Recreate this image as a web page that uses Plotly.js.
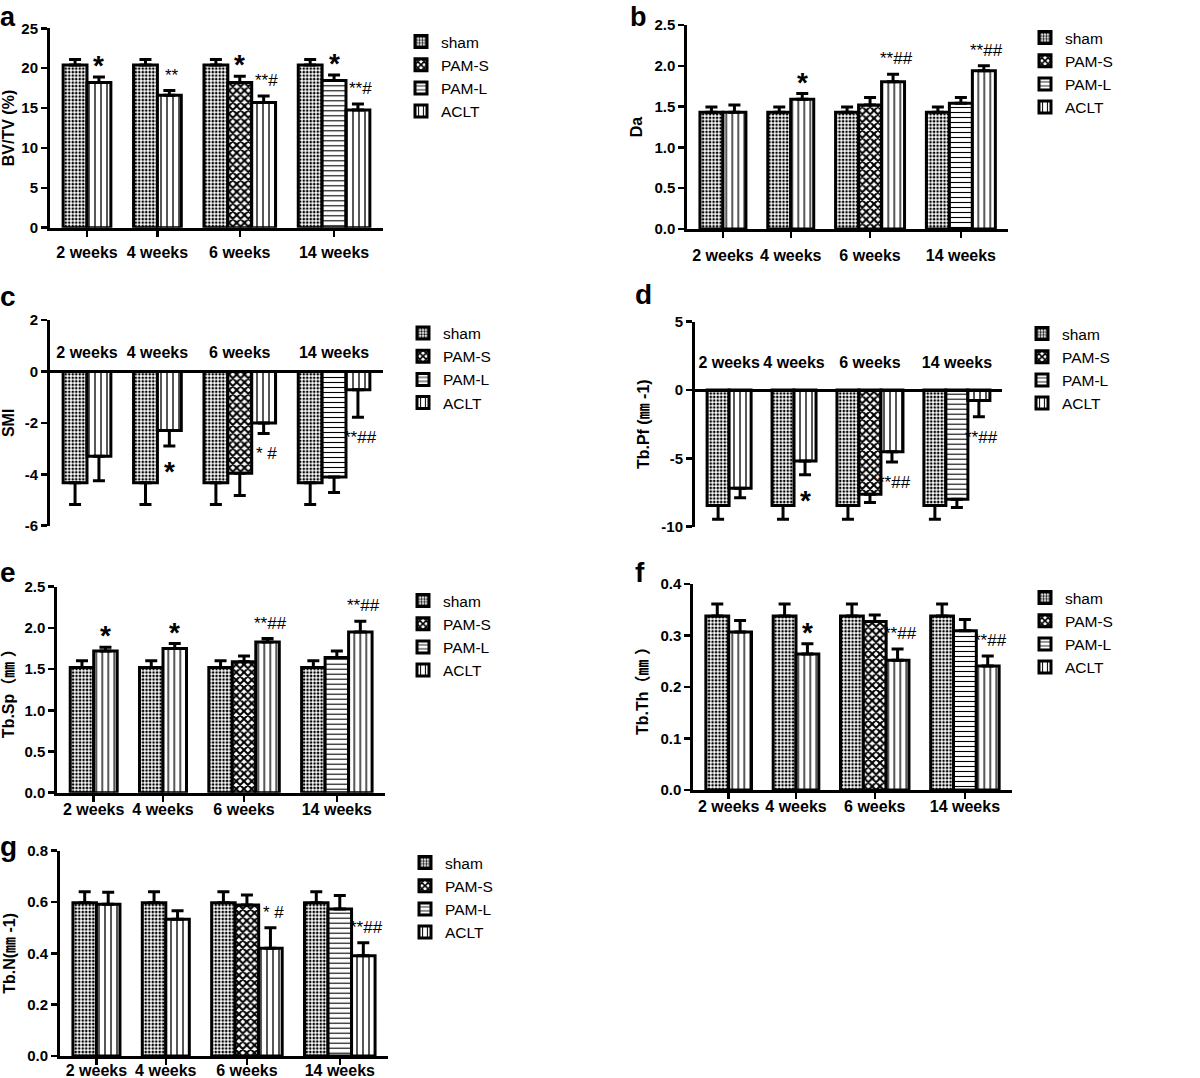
<!DOCTYPE html>
<html><head><meta charset="utf-8">
<script src="https://cdn.plot.ly/plotly-3.0.1.min.js"></script>
<style>html,body{margin:0;padding:0;background:#fff}</style>
</head><body><div id="chart" style="width:1200px;height:1078px"></div>
<script>
// ---------------- DATA ----------------
const categories = ['2 weeks', '4 weeks', '6 weeks', '14 weeks'];
const seriesNames = ['sham', 'PAM-S', 'PAM-L', 'ACLT'];

// a: BV/TV (%)
const bvtvSham = [20.4, 20.4, 20.4, 20.4];
const bvtvShamErr = [0.7, 0.7, 0.7, 0.7];
const bvtvPamS = [null, null, 18.2, null];
const bvtvPamSErr = [null, null, 0.8, null];
const bvtvPamL = [null, null, null, 18.45];
const bvtvPamLErr = [null, null, null, 0.7];
const bvtvAclt = [18.2, 16.6, 15.7, 14.75];
const bvtvAcltErr = [0.7, 0.6, 0.8, 0.75];
const bvtvPamSSig = ['', '', '*', ''];
const bvtvPamLSig = ['', '', '', '*'];
const bvtvAcltSig = ['*', '**', '**#', '**#'];
const bvtvTicks = [0, 5, 10, 15, 20, 25];

// b: Da
const daSham = [1.43, 1.43, 1.43, 1.43];
const daShamErr = [0.065, 0.065, 0.065, 0.065];
const daPamS = [null, null, 1.52, null];
const daPamSErr = [null, null, 0.09, null];
const daPamL = [null, null, null, 1.54];
const daPamLErr = [null, null, null, 0.07];
const daAclt = [1.43, 1.59, 1.805, 1.94];
const daAcltErr = [0.09, 0.07, 0.09, 0.06];
const daAcltSig = ['', '*', '**##', '**##'];
const daTicks = [0, 0.5, 1.0, 1.5, 2.0, 2.5];

// c: SMI
const smiSham = [-4.33, -4.33, -4.33, -4.33];
const smiShamErr = [0.85, 0.85, 0.85, 0.85];
const smiPamS = [null, null, -3.96, null];
const smiPamSErr = [null, null, 0.87, null];
const smiPamL = [null, null, null, -4.11];
const smiPamLErr = [null, null, null, 0.6];
const smiAclt = [-3.30, -2.30, -2.01, -0.71];
const smiAcltErr = [0.95, 0.6, 0.4, 1.07];
const smiAcltSig = ['', '*', '* #', '**##'];
const smiTicks = [-6, -4, -2, 0, 2];

// d: Tb.Pf
const tbpfSham = [-8.45, -8.45, -8.45, -8.45];
const tbpfShamErr = [1.0, 1.0, 1.0, 1.0];
const tbpfPamS = [null, null, -7.63, null];
const tbpfPamSErr = [null, null, 0.6, null];
const tbpfPamL = [null, null, null, -8.0];
const tbpfPamLErr = [null, null, null, 0.6];
const tbpfAclt = [-7.19, -5.19, -4.51, -0.76];
const tbpfAcltErr = [0.7, 1.0, 0.75, 1.2];
const tbpfAcltSig = ['', '*', '**##', '**##'];
const tbpfTicks = [-10, -5, 0, 5];

// e: Tb.Sp
const tbspSham = [1.52, 1.52, 1.52, 1.52];
const tbspShamErr = [0.08, 0.08, 0.08, 0.08];
const tbspPamS = [null, null, 1.59, null];
const tbspPamSErr = [null, null, 0.07, null];
const tbspPamL = [null, null, null, 1.64];
const tbspPamLErr = [null, null, null, 0.08];
const tbspAclt = [1.72, 1.75, 1.83, 1.95];
const tbspAcltErr = [0.045, 0.06, 0.04, 0.13];
const tbspAcltSig = ['*', '*', '**##', '**##'];
const tbspTicks = [0, 0.5, 1.0, 1.5, 2.0, 2.5];

// f: Tb.Th
const tbthSham = [0.338, 0.338, 0.338, 0.338];
const tbthShamErr = [0.023, 0.023, 0.023, 0.023];
const tbthPamS = [null, null, 0.327, null];
const tbthPamSErr = [null, null, 0.013, null];
const tbthPamL = [null, null, null, 0.309];
const tbthPamLErr = [null, null, null, 0.022];
const tbthAclt = [0.307, 0.264, 0.252, 0.241];
const tbthAcltErr = [0.022, 0.02, 0.022, 0.019];
const tbthAcltSig = ['', '*', '**##', '**##'];
const tbthTicks = [0, 0.1, 0.2, 0.3, 0.4];

// g: Tb.N
const tbnSham = [0.597, 0.597, 0.597, 0.597];
const tbnShamErr = [0.043, 0.043, 0.043, 0.043];
const tbnPamS = [null, null, 0.588, null];
const tbnPamSErr = [null, null, 0.039, null];
const tbnPamL = [null, null, null, 0.573];
const tbnPamLErr = [null, null, null, 0.052];
const tbnAclt = [0.591, 0.533, 0.42, 0.391];
const tbnAcltErr = [0.047, 0.033, 0.08, 0.05];
const tbnAcltSig = ['', '', '* #', '**##'];
const tbnTicks = [0, 0.2, 0.4, 0.6, 0.8];

// ---------------- LAYOUT CONFIG ----------------
const W = 1200, H = 1078;
const FONT = 'Liberation Sans, Arial, Noto Sans CJK SC, sans-serif';
const none = ['', '', '', ''];

const panels = [
  {label: 'a', title: 'BV/TV (%)', vals: [bvtvSham, bvtvPamS, bvtvPamL, bvtvAclt],
   errs: [bvtvShamErr, bvtvPamSErr, bvtvPamLErr, bvtvAcltErr], sigs: [none, bvtvPamSSig, bvtvPamLSig, bvtvAcltSig],
   ticks: bvtvTicks, dec: 0, box: [50, 383, 28.3, 227.7], lab: [8, 0], labTop: true, leg: [443, 39], xso: 2},
  {label: 'b', title: 'Da', vals: [daSham, daPamS, daPamL, daAclt],
   errs: [daShamErr, daPamSErr, daPamLErr, daAcltErr], sigs: [none, none, none, daAcltSig],
   ticks: daTicks, dec: 1, box: [687.3, 1008, 25, 229], lab: [638, 0], labTop: true, leg: [1067, 35], xso: 4},
  {label: 'c', title: 'SMI', vals: [smiSham, smiPamS, smiPamL, smiAclt],
   errs: [smiShamErr, smiPamSErr, smiPamLErr, smiAcltErr], sigs: [none, none, none, smiAcltSig],
   ticks: smiTicks, dec: 0, box: [50, 383, 320, 525.7], lab: [8, 296], leg: [445, 330.5], xso: -2},
  {label: 'd', title: 'Tb.Pf (㎜ -1)', vals: [tbpfSham, tbpfPamS, tbpfPamL, tbpfAclt],
   errs: [tbpfShamErr, tbpfPamSErr, tbpfPamLErr, tbpfAcltErr], sigs: [none, none, none, tbpfAcltSig],
   ticks: tbpfTicks, dec: 0, box: [695, 1002, 321.7, 526.7], lab: [643, 294], leg: [1064, 331], xso: 7},
  {label: 'e', title: 'Tb.Sp（㎜ ）', vals: [tbspSham, tbspPamS, tbspPamL, tbspAclt],
   errs: [tbspShamErr, tbspPamSErr, tbspPamLErr, tbspAcltErr], sigs: [none, none, none, tbspAcltSig],
   ticks: tbspTicks, dec: 1, box: [57.3, 385, 586.7, 792.7], lab: [8, 572], leg: [445, 598], xso: -6},
  {label: 'f', title: 'Tb.Th（㎜ ）', vals: [tbthSham, tbthPamS, tbthPamL, tbthAclt],
   errs: [tbthShamErr, tbthPamSErr, tbthPamLErr, tbthAcltErr], sigs: [none, none, none, tbthAcltSig],
   ticks: tbthTicks, dec: 1, box: [693.3, 1011.7, 584, 790], lab: [640, 572], leg: [1067, 595], xso: -6},
  {label: 'g', title: 'Tb.N(㎜ -1)', vals: [tbnSham, tbnPamS, tbnPamL, tbnAclt],
   errs: [tbnShamErr, tbnPamSErr, tbnPamLErr, tbnAcltErr], sigs: [none, none, none, tbnAcltSig],
   ticks: tbnTicks, dec: 1, box: [60, 388, 850.7, 1056], lab: [8, 846], leg: [447, 860], xso: -8}
];

const patterns = [
  {shape: '.', size: 3.5, solidity: 0.45, fgcolor: '#000', bgcolor: '#fff'},
  {shape: 'x', size: 5.5, solidity: 0.6, fgcolor: '#000', bgcolor: '#fff'},
  {shape: '-', size: 5, solidity: 0.22, fgcolor: '#000', bgcolor: '#fff'},
  {shape: '|', size: 6, solidity: 0.22, fgcolor: '#000', bgcolor: '#fff'}
];

const GAP = 0.95, PAD = 0.55;

function slots(vals) {
  let cursor = 0;
  const pos = vals.map(() => categories.map(() => null));
  const centers = [];
  categories.forEach((c, gi) => {
    const start = cursor; let n = 0;
    vals.forEach((v, si) => { if (v[gi] !== null) { pos[si][gi] = cursor; cursor += 1; n++; } });
    centers.push(start + (n - 1) / 2);
    cursor += GAP;
  });
  return {pos, centers, last: cursor - GAP - 1};
}

const data = [];
const layout = {
  width: W, height: H, margin: {l: 0, r: 0, t: 0, b: 0},
  paper_bgcolor: '#fff', plot_bgcolor: 'rgba(0,0,0,0)',
  showlegend: true, hovermode: false, bargap: 0,
  font: {family: FONT, color: '#000'},
  annotations: []
};

panels.forEach((p, i) => {
  const n = i + 1;
  const xa = 'x' + (n === 1 ? '' : n), ya = 'y' + (n === 1 ? '' : n);
  const xk = 'xaxis' + (n === 1 ? '' : n), yk = 'yaxis' + (n === 1 ? '' : n);
  const lk = 'legend' + (n === 1 ? '' : n);
  const [x0, x1, y0, y1] = p.box;
  const xd = [x0 / W, x1 / W], yd = [1 - y1 / H, 1 - y0 / H];
  const s = slots(p.vals);
  const yr = [p.ticks[0], p.ticks[p.ticks.length - 1]];
  const negative = yr[0] < 0;

  p.vals.forEach((vals, si) => {
    const xs = [], ys = [], up = [], dn = [];
    vals.forEach((v, gi) => {
      if (v === null) return;
      const e = p.errs[si][gi];
      xs.push(s.pos[si][gi]); ys.push(v);
      up.push(v >= 0 ? e : 0); dn.push(v >= 0 ? 0 : e);
      const sig = p.sigs[si][gi];
      if (sig) {
        const big = sig === '*';
        const neg = v < 0;
        layout.annotations.push({
          xref: xa, yref: ya, x: s.pos[si][gi], y: neg ? v - e : v + e,
          text: sig, showarrow: false, xanchor: 'center', yanchor: neg ? 'top' : 'bottom',
          xshift: big ? 0 : 3,
          yshift: big ? (neg ? -8 : -6) : (neg ? -9 : 4),
          font: {family: FONT, size: big ? 28 : 17, weight: big ? 'bold' : 'normal', color: '#000'}
        });
      }
    });
    data.push({
      type: 'bar', name: seriesNames[si], x: xs, y: ys, width: 1,
      xaxis: xa, yaxis: ya, legend: lk,
      marker: {color: '#fff', line: {color: '#000', width: 3}, pattern: patterns[si]},
      error_y: {type: 'data', symmetric: false, array: up, arrayminus: dn,
                color: '#000', thickness: 3, width: 6}
    });
  });

  const xaxis = {
    domain: xd, range: [-0.5 - PAD, s.last + 0.5 + PAD],
    showline: true, linewidth: 3, linecolor: '#000',
    ticks: 'outside', ticklen: 6, tickwidth: 2.5, tickcolor: '#000',
    tickvals: s.centers, ticktext: categories,
    tickfont: {family: FONT, size: 16, weight: 'bold', color: '#000'},
    showgrid: false, zeroline: false, anchor: ya, fixedrange: true, ticklabelstandoff: p.xso
  };
  if (negative) {
    const zp = yd[0] + (0 - yr[0]) / (yr[1] - yr[0]) * (yd[1] - yd[0]);
    Object.assign(xaxis, {anchor: 'free', position: zp, side: 'top', tickcolor: 'rgba(0,0,0,0)', ticklen: 8});
  }
  layout[xk] = xaxis;
  layout[yk] = {
    domain: yd, range: yr, anchor: xa,
    showline: true, linewidth: 3, linecolor: '#000',
    ticks: 'outside', ticklen: 6, tickwidth: 2.5, tickcolor: '#000',
    tickvals: p.ticks, ticktext: p.ticks.map(t => t.toFixed(p.dec)),
    tickfont: {family: FONT, size: 15, weight: 'bold', color: '#000'},
    showgrid: false, zeroline: false, fixedrange: true,
    title: {text: p.title, font: {family: FONT, size: 16, weight: 'bold', color: '#000'}, standoff: 8}
  };
  layout[lk] = {
    x: (p.leg[0] - 42) / W, y: 1 - (p.leg[1] - 14) / H, xanchor: 'left', yanchor: 'top',
    bgcolor: 'rgba(0,0,0,0)', borderwidth: 0, tracegroupgap: 0, itemwidth: 30,
    font: {family: FONT, size: 15.5, color: '#000'}
  };
  layout.annotations.push({
    xref: 'paper', yref: 'paper', x: p.lab[0] / W, y: 1 - p.lab[1] / H,
    text: p.label, showarrow: false, xanchor: 'center', yanchor: p.labTop ? 'top' : 'middle',
    font: {family: FONT, size: p.labTop ? 27 : 28, weight: 'bold', color: '#000'}
  });
});

Plotly.newPlot('chart', data, layout, {staticPlot: true, displayModeBar: false});
</script>
</body></html>
